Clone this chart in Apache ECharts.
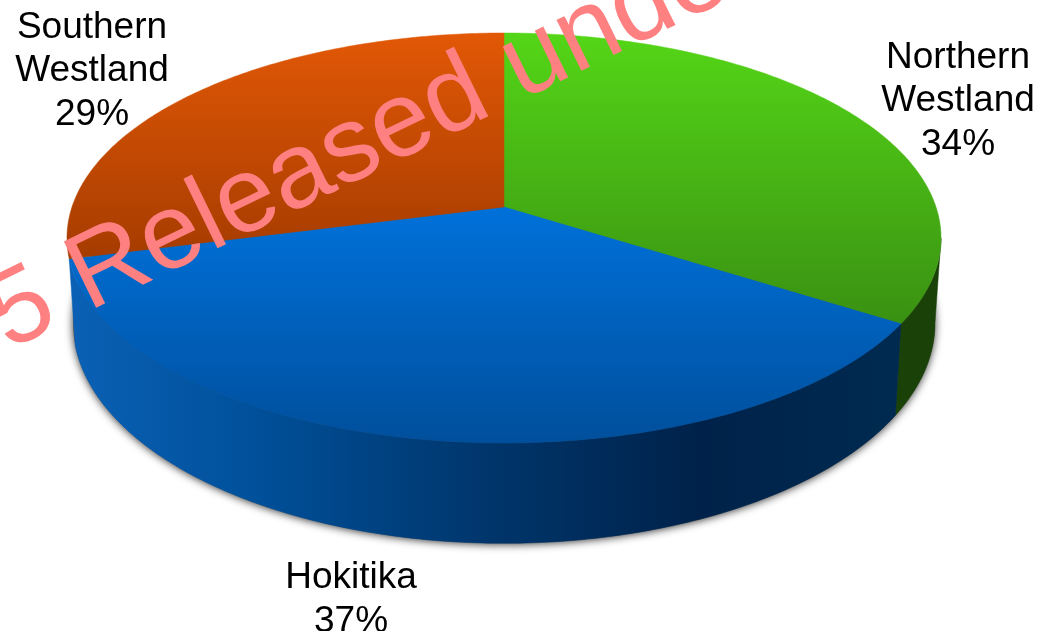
<!DOCTYPE html>
<html>
<head>
<meta charset="utf-8">
<style>html,body{margin:0;padding:0;background:#fff}#chart{width:1046px;height:631px}</style>
<script src="https://cdn.jsdelivr.net/npm/echarts@6/dist/echarts.min.js"></script>
</head>
<body>
<div id="chart"></div>
<script>
// Share of the region by area, clockwise from twelve o'clock.
const categories = ['Northern\nWestland', 'Hokitika', 'Southern\nWestland'];
const shares = [34, 37, 29];
const stampText = '5 Released under the';

// Label anchor points, one per category.
const labelX = [958, 351, 92];
const labelY = [101, 600, 71];

// Perspective disc: rim point = centre + (bX, -aY) / (1 + kY).
const K = 0.1512;
const TOP_RIM = { cx: 504, cy: 207, a: 200.3, b: 432 };
const BASE_RIM = { cx: 504, cy: 290, a: 215, b: 426 };
const SILHOUETTE_RIGHT = 98.7 * Math.PI / 180;
const SILHOUETTE_LEFT = 255.7 * Math.PI / 180;

function vertical(y0, y1, c0, c1) {
  return { type: 'linear', global: true, x: 0, y: y0, x2: 0, y2: y1,
    colorStops: [{ offset: 0, color: c0 }, { offset: 1, color: c1 }] };
}
const faceFill = [
  vertical(33, 322, '#54D617', '#3A9112'),
  vertical(207, 443, '#0071DA', '#004F9C'),
  vertical(33, 255, '#E25806', '#A63C00')
];
const wallFill = [
  '#1A4208',
  { type: 'linear', global: true, x: 75, y: 0, x2: 895, y2: 0, colorStops: [
    { offset: 0, color: '#0A60B4' },
    { offset: 0.22, color: '#00509A' },
    { offset: 0.5, color: '#00366C' },
    { offset: 0.76, color: '#00224A' },
    { offset: 1, color: '#002A50' }
  ] },
  '#7A2A00'
];

function rimPoint(rim, t) {
  const X = Math.sin(t), Y = Math.cos(t), w = 1 + K * Y;
  return [rim.cx + rim.b * X / w, rim.cy - rim.a * Y / w];
}
function rimArc(rim, t0, t1) {
  const steps = Math.max(2, Math.ceil(Math.abs(t1 - t0) * 80));
  const pts = [];
  for (let i = 0; i <= steps; i++) pts.push(rimPoint(rim, t0 + (t1 - t0) * i / steps));
  return pts;
}
// Start and end angle of each slice, derived from the shares.
const total = shares.reduce((s, v) => s + v, 0);
function sliceAngles(index) {
  let before = 0;
  for (let i = 0; i < index; i++) before += shares[i];
  return [before / total * 2 * Math.PI, (before + shares[index]) / total * 2 * Math.PI];
}

const chart = echarts.init(document.getElementById('chart'), null, { renderer: 'canvas' });
const seriesData = shares.map((v, i) => ({ name: categories[i], value: v }));

chart.setOption({
  animation: false,
  backgroundColor: '#ffffff',
  series: [
    {
      // Soft shadow under the base of the disc.
      type: 'custom', coordinateSystem: 'none', z: 1, silent: true,
      data: [1],
      renderItem() {
        return {
          type: 'polygon',
          shape: { points: rimArc(BASE_RIM, 0, 2 * Math.PI) },
          style: { fill: '#5a5a5a', shadowBlur: 9, shadowColor: 'rgba(0,0,0,0.8)', shadowOffsetY: 1 }
        };
      }
    },
    {
      // Visible part of the side wall of each slice.
      type: 'custom', coordinateSystem: 'none', z: 2, silent: true,
      data: seriesData,
      renderItem(params) {
        const [t0, t1] = sliceAngles(params.dataIndex);
        const from = Math.max(t0, SILHOUETTE_RIGHT);
        const to = Math.min(t1, SILHOUETTE_LEFT);
        if (to - from < 0.01) return { type: 'group', children: [] };
        const pts = rimArc(TOP_RIM, from, to).concat(rimArc(BASE_RIM, to, from));
        const fill = wallFill[params.dataIndex];
        return { type: 'polygon', shape: { points: pts }, style: { fill, stroke: fill, lineWidth: 0.5 } };
      }
    },
    {
      // Top faces of the slices with their labels.
      type: 'custom', coordinateSystem: 'none', z: 3, silent: true,
      data: seriesData,
      renderItem(params) {
        const i = params.dataIndex;
        const [t0, t1] = sliceAngles(i);
        const apex = [TOP_RIM.cx, TOP_RIM.cy];
        return {
          type: 'group',
          children: [
            {
              type: 'polygon',
              shape: { points: [apex].concat(rimArc(TOP_RIM, t0, t1)) },
              style: { fill: faceFill[i], stroke: faceFill[i], lineWidth: 0.5 }
            },
            {
              type: 'text',
              x: labelX[i], y: labelY[i],
              style: {
                text: categories[i] + '\n' + shares[i] + '%',
                fill: '#000000',
                font: '37px "Liberation Sans", Arial, sans-serif',
                lineHeight: 43.5,
                textAlign: 'center',
                textVerticalAlign: 'middle'
              }
            }
          ]
        };
      }
    }
  ],
  graphic: {
    elements: [
      {
        type: 'text', z: 100, silent: true,
        x: -5, y: 324, rotation: 26 * Math.PI / 180,
        style: {
          text: stampText,
          fill: '#FF8080',
          font: '107px "Liberation Sans", Arial, sans-serif',
          textAlign: 'left',
          textVerticalAlign: 'middle'
        }
      }
    ]
  }
});
</script>
</body>
</html>
